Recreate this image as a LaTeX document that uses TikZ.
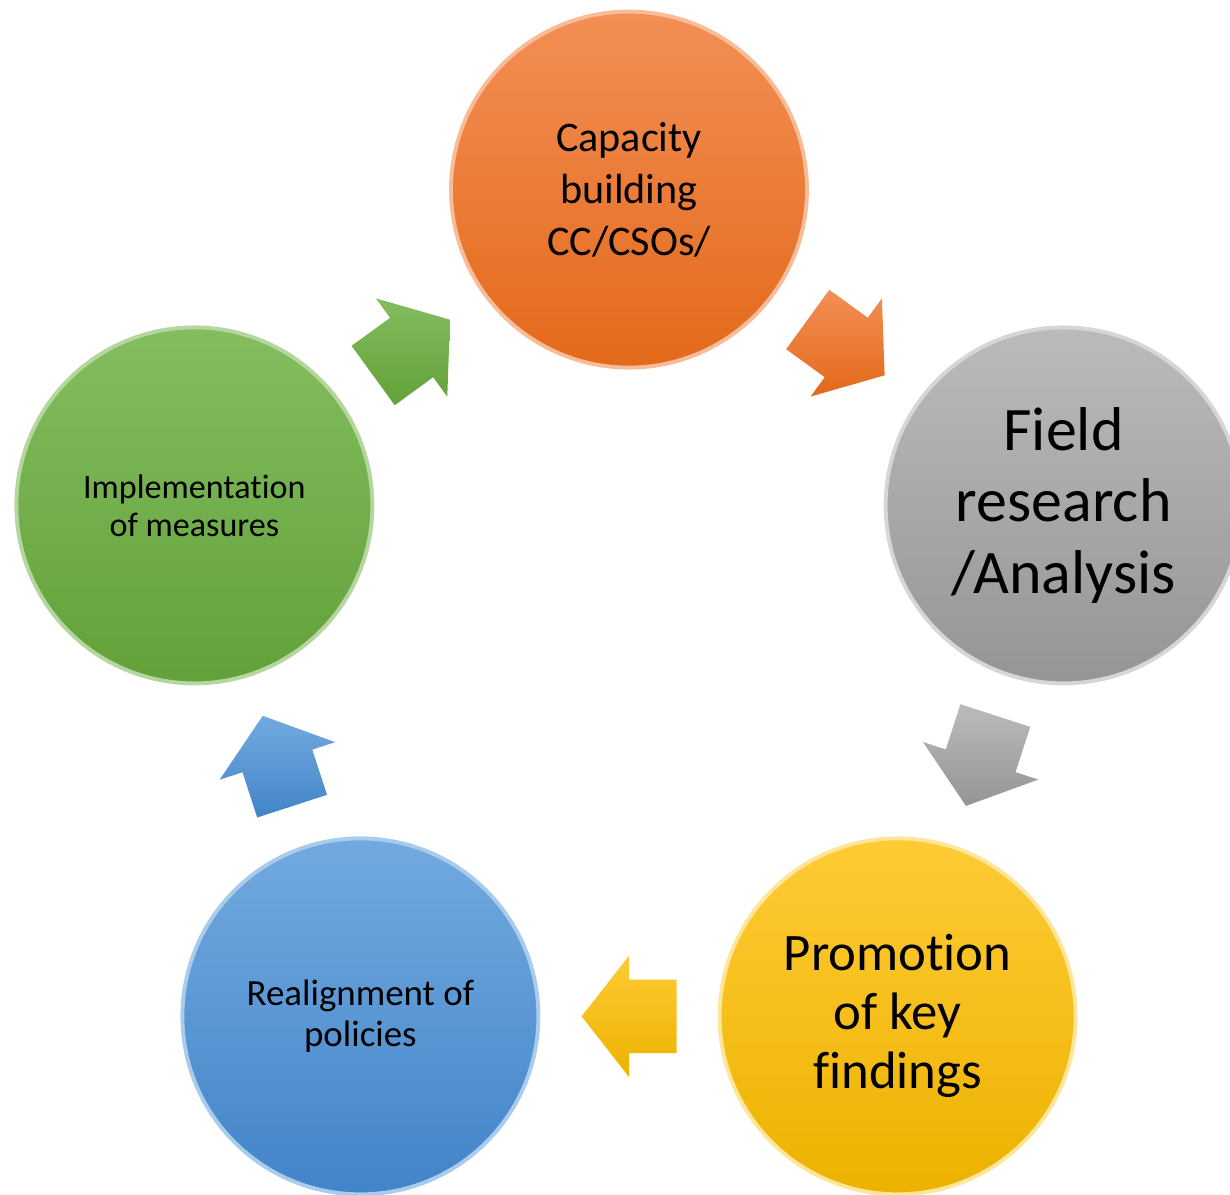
\documentclass[tikz,border=0pt]{standalone}
\usepackage{fontspec}
\setmainfont{Carlito}[Ligatures = {NoCommon, NoContextual}, RawFeature = {-liga;-clig}]
\usetikzlibrary{shapes.arrows}

\definecolor{capTop}{HTML}{F38F55}
\definecolor{capBot}{HTML}{E3691A}
\definecolor{fieldTop}{HTML}{BBBBBB}
\definecolor{fieldBot}{HTML}{959595}
\definecolor{promoTop}{HTML}{FFCB35}
\definecolor{promoBot}{HTML}{ECB200}
\definecolor{realignTop}{HTML}{72AAE0}
\definecolor{realignBot}{HTML}{4284C8}
\definecolor{implTop}{HTML}{84BD5F}
\definecolor{implBot}{HTML}{62A139}

\begin{document}
\begin{tikzpicture}[
                    align = center,
                    phase/.style = {circle, minimum size = 3.56cm, inner sep = 0pt, line width = 1.1pt},
                    cyclearrow/.style = {single arrow, single arrow tip angle = 104,
                                         single arrow head extend = 0.24cm, minimum height = 0.95cm,
                                         inner xsep = 0pt, inner ysep = 0.36cm,
                                         pos = 0.41, anchor = tail, sloped, allow upside down}]
    \useasboundingbox (-6.29,-5.474) rectangle (6.01,6.466);
    % the five phases round the cycle
    \node[phase, top color = capTop, bottom color = capBot, draw = capTop!60!white,
          font = \fontsize{12}{14.8}\selectfont]         (cap)     at (90:4.57)  {Capacity\\building\\CC/CSOs/};
    \node[phase, top color = fieldTop, bottom color = fieldBot, draw = fieldTop!60!white,
          font = \fontsize{17.6}{20.4}\selectfont]       (field)   at (18:4.57)  {Field\\research\\/Analysis};
    \node[phase, top color = promoTop, bottom color = promoBot, draw = promoTop!50!white,
          font = \fontsize{15}{16.8}\selectfont]         (promo)   at (-54:4.57) {Promotion\\of key\\findings};
    \node[phase, top color = realignTop, bottom color = realignBot, draw = realignTop!60!white,
          font = \fontsize{10.5}{11.7}\selectfont]       (realign) at (-126:4.57) {Realignment of\\policies};
    \node[phase, top color = implTop, bottom color = implBot, draw = implTop!60!white,
          font = \fontsize{9.7}{10.8}\selectfont]        (impl)    at (162:4.57) {Implementation\\of measures};
    % block arrows between the phases
    \path (cap.center)     -- (field.center)   node[cyclearrow, top color = capTop, bottom color = capBot] {};
    \path (field.center)   -- (promo.center)   node[cyclearrow, top color = fieldTop, bottom color = fieldBot] {};
    \path (promo.center)   -- (realign.center) node[cyclearrow, top color = promoTop, bottom color = promoBot] {};
    \path (realign.center) -- (impl.center)    node[cyclearrow, top color = realignTop, bottom color = realignBot] {};
    \path (impl.center)    -- (cap.center)     node[cyclearrow, top color = implTop, bottom color = implBot] {};
\end{tikzpicture}
\end{document}
